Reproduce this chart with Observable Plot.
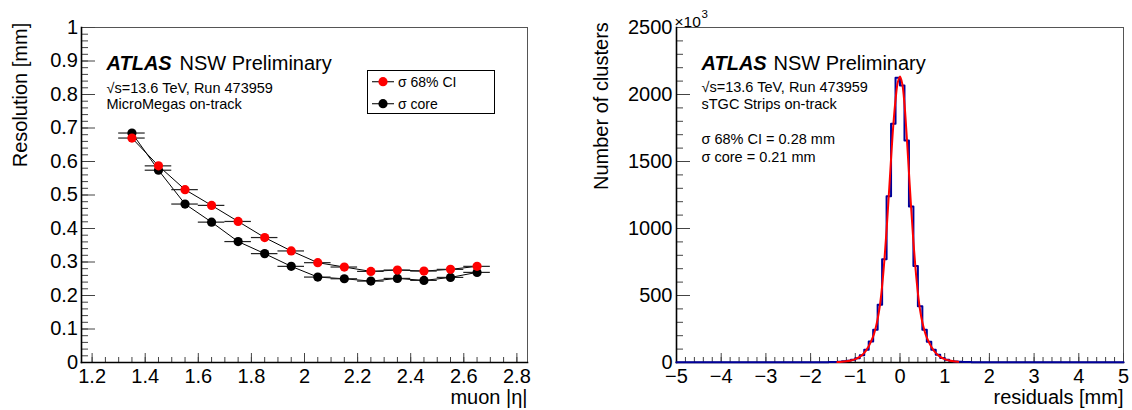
<!DOCTYPE html>
<html><head><meta charset="utf-8">
<script src="https://cdn.jsdelivr.net/npm/d3@7"></script>
<script src="https://cdn.jsdelivr.net/npm/@observablehq/plot@0.6"></script>
<style>
html,body{margin:0;padding:0;background:#fff;}
#wrap{display:flex;width:1132px;height:410px;overflow:hidden;}
#wrap svg{display:block;flex:none;}
</style></head><body><div id="wrap"></div>
<script>
// ---------- Left panel data: resolution vs muon |eta| ----------
const etaCenters   = [1.35,1.45,1.55,1.65,1.75,1.85,1.95,2.05,2.15,2.25,2.35,2.45,2.55,2.65];
const etaHalfWidth = [0.05,0.05,0.05,0.05,0.05,0.05,0.05,0.05,0.05,0.05,0.05,0.05,0.05,0.05];
const sigma68CI    = [0.670,0.587,0.516,0.469,0.421,0.373,0.333,0.298,0.285,0.272,0.276,0.273,0.278,0.287];
const sigmaCore    = [0.685,0.574,0.473,0.419,0.361,0.325,0.287,0.255,0.250,0.243,0.251,0.245,0.254,0.269];
const etaTicks = [1.2,1.4,1.6,1.8,2.0,2.2,2.4,2.6,2.8];
const resTicks = [0,0.1,0.2,0.3,0.4,0.5,0.6,0.7,0.8,0.9,1];

// ---------- Right panel data: sTGC strip residuals ----------
const histLow = -5, histBinWidth = 0.1;
const clusterCounts = [ // x10^3 per 0.1 mm bin, -5 .. 5
  1,1,1,1,1,1,1,1,1,1, 1,1,1,1,1,1,1,1,1,1,
  1,1,1,1,1,1.5,1.5,1.5,1.5,2,
  2,2,2,2,3,
  4,6,9,13,20,32,55,95,157,244,431,770,1241,1782,2125,
  2068,1657,1164,720,420,245,155,95,57,33,20,12,8,5,4,
  3,2,2,2,2,
  2,1.5,1.5,1.5,1.5,1,1,1,1,1,
  1,1,1,1,1,1,1,1,1,1, 1,1,1,1,1,1,1,1,1,1
];
const fitX = [-1.4,-1.3,-1.2,-1.1,-1.0,-0.9,-0.8,-0.7,-0.6,-0.55,-0.5,-0.45,-0.4,-0.35,-0.3,-0.25,-0.2,-0.15,-0.1,-0.05,0,0.05,0.1,0.15,0.2,0.25,0.3,0.35,0.4,0.45,0.5,0.55,0.6,0.7,0.8,0.9,1.0,1.1,1.2,1.3];
const fitY = [3,5,9,15,25,42,72,122,195,250,325,425,570,760,990,1250,1520,1770,1960,2090,2135,2080,1930,1690,1420,1150,900,690,520,390,300,235,185,118,72,42,25,15,9,5];
const resTicksX = [-5,-4,-3,-2,-1,0,1,2,3,4,5];
const countTicks = [0,500,1000,1500,2000,2500];

// ---------- build tables ----------
const etaData = etaCenters.map((x,i)=>({x, xe: etaHalfWidth[i], s68: sigma68CI[i], sc: sigmaCore[i]}));
const histSteps = clusterCounts.map((n,i)=>({x: histLow + i*histBinWidth, n}));
histSteps.push({x: histLow + clusterCounts.length*histBinWidth, n: clusterCounts[clusterCounts.length-1]});
const fitData = fitX.map((x,i)=>({x, y: fitY[i]}));

const FONT = "'Liberation Sans', Arial, Helvetica, sans-serif";
const fmt = d => (d < 0 ? "\u2212" : "") + String(+Math.abs(d).toFixed(2));
const style = {fontFamily: FONT, fontSize: "20px", background: "white", color: "black", overflow: "visible"};
const T = (s, o) => Plot.text([s], {text: d => d, frameAnchor: "top-left", textAnchor: "start", lineAnchor: "bottom", fill: "black", ...o});

// ---------- Left plot ----------
const left = Plot.plot({
  width: 566, height: 410,
  marginLeft: 81, marginRight: 39, marginTop: 27, marginBottom: 48,
  style,
  x: {domain: [1.16, 2.84], label: null},
  y: {domain: [0, 1], label: null},
  marks: [
    Plot.frame({stroke: "#555", strokeWidth: 1}),
    Plot.axisY(d3.range(0, 1.0001, 0.02), {anchor: "left", tickSize: -7, tickFormat: () => "", stroke: "#444", label: null}),
    Plot.axisY(resTicks, {anchor: "left", tickSize: -14, tickPadding: 17.5, tickFormat: fmt, stroke: "#444", fontSize: 20, label: null}),
    Plot.axisX(d3.range(1.2, 2.8001, 0.05), {anchor: "bottom", tickSize: -5, tickFormat: () => "", stroke: "#444", label: null}),
    Plot.axisX(etaTicks, {anchor: "bottom", tickSize: -9, tickPadding: 15, tickFormat: fmt, stroke: "#444", fontSize: 20, label: null}),
    Plot.frame({anchor: "left", stroke: "black", strokeWidth: 1.6}),
    Plot.frame({anchor: "bottom", stroke: "black", strokeWidth: 1.6}),
    Plot.line(etaData, {x: "x", y: "sc", stroke: "black", strokeWidth: 1}),
    Plot.line(etaData, {x: "x", y: "s68", stroke: "black", strokeWidth: 1}),
    Plot.ruleY(etaData, {y: "sc", x1: d => d.x - d.xe, x2: d => d.x + d.xe, stroke: "#222", strokeWidth: 1.2}),
    Plot.ruleY(etaData, {y: "s68", x1: d => d.x - d.xe, x2: d => d.x + d.xe, stroke: "#222", strokeWidth: 1.2}),
    Plot.dot(etaData, {x: "x", y: "sc", r: 4.6, fill: "black", stroke: "none"}),
    Plot.dot(etaData, {x: "x", y: "s68", r: 4.6, fill: "#ff0000", stroke: "none"}),
    T("ATLAS", {dx: 25, dy: 42.6, fontSize: 20, fontWeight: "bold", fontStyle: "italic"}),
    T("NSW Preliminary", {dx: 98, dy: 42.6, fontSize: 20}),
    T("\u221As=13.6 TeV, Run 473959", {dx: 25, dy: 65, fontSize: 14.5}),
    T("MicroMegas on-track", {dx: 25, dy: 81.6, fontSize: 14.5}),
    Plot.text(["Resolution [mm]"], {text: d => d, frameAnchor: "top-left", rotate: -90, textAnchor: "end", lineAnchor: "bottom", dx: -54.5, dy: -4.7, fontSize: 20, fill: "black"}),
    Plot.text(["muon |\u03b7|"], {text: d => d, frameAnchor: "bottom-right", textAnchor: "end", lineAnchor: "bottom", dx: 0, dy: 41.5, fontSize: 20, fill: "black"})
  ]
});

// legend (left panel)
{
  const g = d3.select(left).append("g").attr("font-family", FONT).attr("font-size", 14).attr("text-anchor", "start");
  g.append("rect").attr("x", 367.5).attr("y", 70.5).attr("width", 127).attr("height", 43)
    .attr("fill", "white").attr("stroke", "black").attr("stroke-width", 1);
  const entries = [["\u03c3 68% CI", "#ff0000", 81.7], ["\u03c3 core", "black", 103.7]];
  for (const [lab, col, y] of entries) {
    g.append("line").attr("x1", 372).attr("x2", 394).attr("y1", y).attr("y2", y).attr("stroke", "#222").attr("stroke-width", 1.2);
    g.append("circle").attr("cx", 383).attr("cy", y).attr("r", 4.6).attr("fill", col);
    g.append("text").attr("x", 398).attr("y", y).attr("dy", "0.35em").attr("text-anchor", "start").attr("fill", "black").text(lab);
  }
}

// ---------- Right plot ----------
const right = Plot.plot({
  width: 566, height: 410,
  marginLeft: 110, marginRight: 9, marginTop: 27, marginBottom: 48,
  style,
  x: {domain: [-5, 5], label: null},
  y: {domain: [0, 2500], label: null},
  marks: [
    Plot.frame({stroke: "#555", strokeWidth: 1}),
    Plot.axisY(d3.range(0, 2501, 100), {anchor: "left", tickSize: -7, tickFormat: () => "", stroke: "#444", label: null}),
    Plot.axisY(countTicks, {anchor: "left", tickSize: -14, tickPadding: 18, tickFormat: fmt, stroke: "#444", fontSize: 20, label: null}),
    Plot.axisX(d3.range(-5, 5.001, 0.2), {anchor: "bottom", tickSize: -5, tickFormat: () => "", stroke: "#444", label: null}),
    Plot.axisX(resTicksX, {anchor: "bottom", tickSize: -9, tickPadding: 15, tickFormat: fmt, stroke: "#444", fontSize: 20, label: null}),
    Plot.frame({anchor: "left", stroke: "black", strokeWidth: 1.6}),
    Plot.frame({anchor: "bottom", stroke: "black", strokeWidth: 1.6}),
    Plot.line(histSteps, {x: "x", y: "n", curve: "step-after", stroke: "#000099", strokeWidth: 2}),
    Plot.line(fitData, {x: "x", y: "y", curve: "catmull-rom", stroke: "#ff0000", strokeWidth: 2}),
    T("ATLAS", {dx: 25, dy: 42.3, fontSize: 20, fontWeight: "bold", fontStyle: "italic"}),
    T("NSW Preliminary", {dx: 97, dy: 42.3, fontSize: 20}),
    T("\u221As=13.6 TeV, Run 473959", {dx: 25, dy: 64.7, fontSize: 14.5}),
    T("sTGC Strips on-track", {dx: 25, dy: 81.3, fontSize: 14.5}),
    T("\u03c3 68% CI = 0.28 mm", {dx: 25, dy: 116.3, fontSize: 14.5}),
    T("\u03c3 core = 0.21 mm", {dx: 25, dy: 134.7, fontSize: 14.5}),
    T("\u00d710", {dx: -2, dy: -1, fontSize: 15.5}),
    T("3", {dx: 25, dy: -10, fontSize: 11.5}),
    Plot.text(["Number of clusters"], {text: d => d, frameAnchor: "top-left", rotate: -90, textAnchor: "end", lineAnchor: "bottom", dx: -68.3, dy: -5.3, fontSize: 20, fill: "black"}),
    Plot.text(["residuals [mm]"], {text: d => d, frameAnchor: "bottom-right", textAnchor: "end", lineAnchor: "bottom", dx: 0, dy: 41.5, fontSize: 20, fill: "black"})
  ]
});

document.getElementById("wrap").append(left, right);
</script>
</body></html>
